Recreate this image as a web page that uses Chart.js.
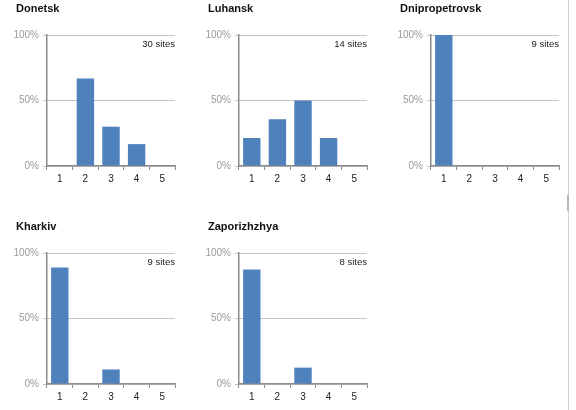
<!DOCTYPE html>
<html><head><meta charset="utf-8">
<script src="https://cdn.jsdelivr.net/npm/chart.js@4/dist/chart.umd.min.js"></script>
<style>
html,body{margin:0;padding:0;background:#fff;width:576px;height:410px;overflow:hidden;position:relative}
canvas{position:absolute}
#edge{position:absolute;left:568px;top:0;width:1px;height:410px;background:#d0d0d0}
#edge2{position:absolute;left:567px;top:195px;width:2px;height:16px;background:#b8b8b8}
</style></head>
<body>
<div id="edge"></div><div id="edge2"></div>
<canvas id="c0" width="190" height="200" style="left:0px;top:0px"></canvas>
<canvas id="c1" width="190" height="200" style="left:192px;top:0px"></canvas>
<canvas id="c2" width="190" height="200" style="left:384px;top:0px"></canvas>
<canvas id="c3" width="190" height="200" style="left:0px;top:218px"></canvas>
<canvas id="c4" width="190" height="200" style="left:192px;top:218px"></canvas>
<script>
const categories = ['1','2','3','4','5'];
const regions = ['Donetsk','Luhansk','Dnipropetrovsk','Kharkiv','Zaporizhzhya'];
const siteCounts = [30, 14, 9, 9, 8];
const donetsk = [0, 66.7, 30, 16.7, 0];
const luhansk = [21.4, 35.7, 50, 21.4, 0];
const dnipropetrovsk = [100, 0, 0, 0, 0];
const kharkiv = [88.9, 0, 11.1, 0, 0];
const zaporizhzhya = [87.5, 0, 12.5, 0, 0];
const yTicks = [0, 50, 100];
const seriesList = [donetsk, luhansk, dnipropetrovsk, kharkiv, zaporizhzhya];

const FONT = 'Liberation Sans, Arial, sans-serif';

const labelsPlugin = {
  id: 'panelLabels',
  afterDraw(chart, args, opts) {
    const ctx = chart.ctx, a = chart.chartArea;
    ctx.save();
    ctx.fillStyle = '#111';
    ctx.font = 'bold 11px ' + FONT;
    ctx.textAlign = 'left';
    ctx.textBaseline = 'middle';
    ctx.fillText(opts.title, a.left - 31, 9);
    ctx.font = '9.5px ' + FONT;
    ctx.fillStyle = '#222';
    ctx.textAlign = 'right';
    ctx.fillText(opts.sites + ' sites', a.right, a.top + 9.5);
    ctx.restore();
  }
};

seriesList.forEach((data, i) => {
  new Chart(document.getElementById('c' + i), {
    type: 'bar',
    data: {
      labels: categories,
      datasets: [{
        data: data,
        backgroundColor: '#4f81bd',
        borderWidth: 0,
        categoryPercentage: 0.68,
        barPercentage: 1.0
      }]
    },
    options: {
      responsive: false,
      animation: false,
      layout: { padding: { left: 7, top: 35, right: 15, bottom: 14 } },
      plugins: {
        legend: { display: false },
        tooltip: { enabled: false },
        panelLabels: { title: regions[i], sites: siteCounts[i] }
      },
      scales: {
        x: {
          afterFit(s) { s.height = 20; },
          grid: { drawOnChartArea: false, drawTicks: true, tickLength: 4, color: '#8c8c8c', offset: true },
          border: { color: '#8c8c8c', width: 1.5 },
          ticks: { color: '#222', font: { family: FONT, size: 10 }, padding: 3 }
        },
        y: {
          min: 0, max: 100,
          afterFit(s) { s.width = 40; },
          afterBuildTicks(s) { s.ticks = yTicks.map(v => ({ value: v })); },
          grid: { color: '#c4c4c4', tickLength: 4, lineWidth: 1 },
          border: { color: '#8c8c8c', width: 1.5 },
          ticks: { color: '#999', font: { family: FONT, size: 10 }, padding: 4,
                   callback: v => v + '%' }
        }
      }
    },
    plugins: [labelsPlugin]
  });
});
</script>
</body></html>
